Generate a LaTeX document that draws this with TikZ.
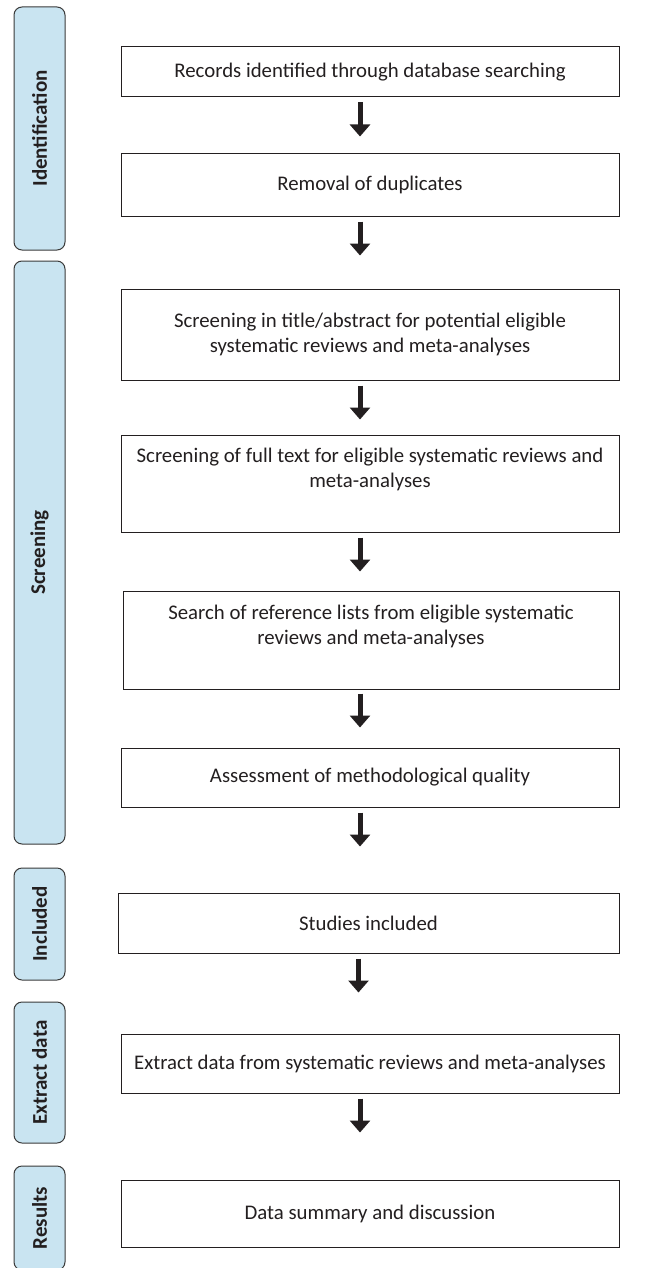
\documentclass[tikz,border=0pt]{standalone}
\usepackage{fontspec}
\setmainfont{Carlito}
\usetikzlibrary{arrows.meta}
\definecolor{panelblue}{HTML}{C9E4F1}
\definecolor{txt}{HTML}{231F20}
\definecolor{edge}{HTML}{3A3A3A}
\tikzset{
  stepbox/.style={draw=txt, line width=1pt, fill=white, inner sep=0pt, align=center,
    text=txt, font=\fontsize{20.8}{25}\selectfont},
  panel/.style={draw=edge, line width=1pt, fill=panelblue, rounded corners=8pt, inner sep=0pt,
    rotate=90, text=txt, font=\bfseries\fontsize{21}{24}\selectfont},
  flowarrow/.style={line width=5pt, draw=txt, -{Triangle[width=20pt,length=12pt]}},
}
\begin{document}
\begin{tikzpicture}[x=1pt,y=-1pt]
\useasboundingbox (0,0) rectangle (653,1268);
\clip (0,0) rectangle (653,1268);
% side panels
\node[panel, minimum width=243pt, minimum height=51pt] (pid) at (39.5,128.5) {Identification};
\node[panel, minimum width=583pt, minimum height=51pt] (psc) at (39.5,552.5) {Screening};
\node[panel, minimum width=112pt, minimum height=51pt] (pin) at (39.5,924) {Included};
\node[panel, minimum width=141pt, minimum height=51pt] (pex) at (39.5,1072.5) {Extract data};
\node[panel, minimum width=104pt, minimum height=51pt] (pre) at (39.5,1218) {Results};
% boxes
\node[stepbox, minimum width=498pt, minimum height=50pt] (b1) at (370,72) {Records identified through database searching};
\node[stepbox, minimum width=498pt, minimum height=62pt] (b2) at (370,185) {Removal of duplicates};
\node[stepbox, minimum width=498pt, minimum height=91pt] (b3) at (370,334.5) {Screening in title/abstract for potential eligible\\systematic reviews and meta-analyses};
\node[stepbox, minimum width=498pt, minimum height=97pt] (b4) at (370,483.5) {Screening of full text for eligible systematic reviews and\\meta-analyses\\[6pt]};
\node[stepbox, minimum width=496pt, minimum height=98pt] (b5) at (371,640) {Search of reference lists from eligible systematic\\reviews and meta-analyses\\[6pt]};
\node[stepbox, minimum width=498pt, minimum height=59pt] (b6) at (370,777.5) {Assessment of methodological quality};
\node[stepbox, minimum width=501pt, minimum height=60pt] (b7) at (368.5,923) {Studies included};
\node[stepbox, minimum width=498pt, minimum height=59pt] (b8) at (370,1063.5) {Extract data from systematic reviews and meta-analyses};
\node[stepbox, minimum width=498pt, minimum height=67pt] (b9) at (370,1213.5) {Data summary and discussion};
% arrows
\foreach \b in {b1,b2,b3,b4,b6,b7,b8}{
  \draw[flowarrow] ([xshift=-10pt,yshift=-5pt]\b.south) -- ++(0,34);
}
\draw[flowarrow] ([xshift=-11pt,yshift=-4pt]b5.south) -- ++(0,34);
\end{tikzpicture}
\end{document}
